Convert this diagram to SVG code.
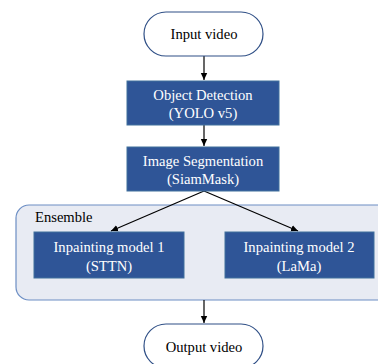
<svg xmlns="http://www.w3.org/2000/svg" width="378" height="364" viewBox="0 0 378 364">
<defs>
<style>
.pill{fill:#ffffff;stroke:#2F4F86;stroke-width:1.2}
.box{fill:#2F5597;stroke:#41719C;stroke-width:1}
.wt{fill:#ffffff;font-family:"Liberation Serif","Times New Roman",serif;font-size:14.6px;text-anchor:middle}
.bt{fill:#000000;font-family:"Liberation Serif","Times New Roman",serif;font-size:14.6px;text-anchor:middle}
.lt{fill:#000000;font-family:"Liberation Serif","Times New Roman",serif;font-size:14.6px}
.con{stroke:#000000;stroke-width:1.2;fill:none;marker-end:url(#ah)}
</style>
<marker id="ah" markerWidth="8" markerHeight="8" refX="7" refY="4" orient="auto" markerUnits="userSpaceOnUse">
<path d="M0,0.8 L7,4 L0,7.2 Z" fill="#000000"/>
</marker>
</defs>
<g id="ensemble">
<rect x="16" y="205" width="380" height="95" rx="13" ry="13" fill="#E8EBF3" stroke="#6C8EC4" stroke-width="1.2"/>
<text class="lt" x="35" y="222">Ensemble</text>
</g>
<g id="connectors">
<line class="con" x1="204" y1="56" x2="204" y2="80"/>
<line class="con" x1="204" y1="125" x2="204" y2="146"/>
<line class="con" x1="204" y1="191" x2="111" y2="231"/>
<line class="con" x1="204" y1="191" x2="298" y2="231"/>
<line class="con" x1="204" y1="300" x2="204" y2="323"/>
</g>
<g id="input">
<rect class="pill" x="144" y="12" width="119" height="44" rx="22" ry="22"/>
<text class="bt" x="204" y="39">Input video</text>
</g>
<g id="detection">
<rect class="box" x="127" y="81" width="152" height="44"/>
<text class="wt" x="203" y="100">Object Detection</text>
<text class="wt" x="203" y="118">(YOLO v5)</text>
</g>
<g id="segmentation">
<rect class="box" x="127" y="147" width="152" height="44"/>
<text class="wt" x="203" y="166">Image Segmentation</text>
<text class="wt" x="203" y="184">(SiamMask)</text>
</g>
<g id="model1">
<rect class="box" x="34" y="232" width="150" height="46"/>
<text class="wt" x="109" y="252">Inpainting model 1</text>
<text class="wt" x="109" y="271">(STTN)</text>
</g>
<g id="model2">
<rect class="box" x="225" y="232" width="149" height="46"/>
<text class="wt" x="299" y="252">Inpainting model 2</text>
<text class="wt" x="299" y="271">(LaMa)</text>
</g>
<g id="output">
<rect class="pill" x="144" y="324" width="119" height="44" rx="22" ry="22"/>
<text class="bt" x="204" y="352">Output video</text>
</g>
</svg>
